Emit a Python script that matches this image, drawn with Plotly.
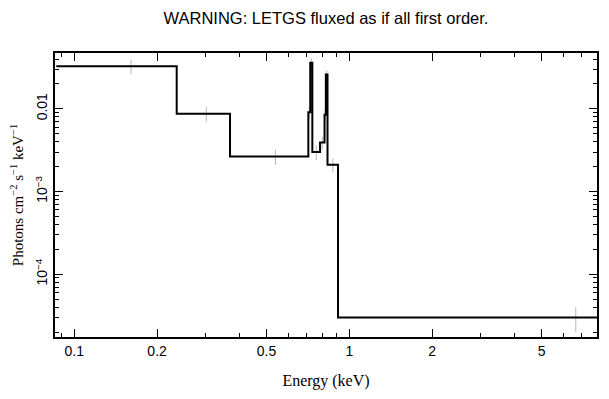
import plotly.graph_objects as go
import numpy as np

# Bin edges (keV) and fluxed values (photons cm^-2 s^-1 keV^-1)
bin_edges = [0.086, 0.2357, 0.3683, 0.7094, 0.721, 0.7336, 0.7825, 0.8125, 0.8214, 0.833, 0.9097, 12.4]
flux = [0.0326, 0.0087, 0.00265, 0.0091, 0.036, 0.0030, 0.0039, 0.0085, 0.026, 0.0021, 3.0e-5]
flux_err = [0.0065, 0.0018, 0.00055, 0.0015, 0.005, 0.0006, 0.0007, 0.0015, 0.003, 0.0004, 1.0e-5]

x_major = [0.1, 0.2, 0.5, 1, 2, 5]
x_major_text = ["0.1", "0.2", "0.5", "1", "2", "5"]
x_minor = [0.09, 0.3, 0.4, 0.6, 0.7, 0.8, 0.9, 3, 4, 6, 7]
y_major = [0.01, 1e-3, 1e-4]
y_major_text = ["0.01", "10<sup>\u22123</sup>", "10<sup>\u22124</sup>"]
y_minor = [m * 10.0 ** e for e in (-5, -4, -3, -2) for m in range(2, 10)]

step_x = list(bin_edges)
step_y = list(flux) + [flux[-1]]
centers = [(a + b) / 2 for a, b in zip(bin_edges[:-1], bin_edges[1:])]

fig = go.Figure()
fig.add_trace(go.Scatter(
    x=centers, y=flux, mode="markers",
    marker=dict(size=1, color="rgba(0,0,0,0)"),
    error_y=dict(type="data", array=flux_err, color="#b8b8b8", thickness=1, width=0),
    showlegend=False, hoverinfo="skip"))
fig.add_trace(go.Scatter(
    x=step_x, y=step_y, mode="lines", line=dict(shape="hv", color="black", width=2),
    showlegend=False))

sans = "Liberation Sans, Arial, Helvetica, sans-serif"
serif = "Liberation Serif, Times New Roman, serif"

W, H = 593, 383  # page body has an 8px margin
fig.update_layout(
    width=W, height=H,
    margin=dict(l=47, r=4, t=45, b=54),
    paper_bgcolor="white", plot_bgcolor="white",
    title=dict(text="WARNING: LETGS fluxed as if all first order.",
               x=0.5, xref="paper", xanchor="center",
               y=1 - 10 / H, yref="container", yanchor="middle",
               font=dict(family=sans, size=16.5, color="black")),
    font=dict(family=sans, color="black"),
)
fig.update_xaxes(
    type="log", range=[np.log10(0.0851), np.log10(7.95)], automargin=False,
    showgrid=False, zeroline=False,
    showline=True, linecolor="black", linewidth=2, mirror="allticks",
    ticks="inside", ticklen=8, tickwidth=1, tickcolor="black",
    tickmode="array", tickvals=x_major, ticktext=x_major_text,
    tickfont=dict(family=sans, size=14, color="black"),
    minor=dict(tickmode="array", tickvals=x_minor, ticks="inside", ticklen=4, tickcolor="black", showgrid=False),
    title=dict(text="Energy (keV)", font=dict(family=serif, size=16, color="black"), standoff=17),
)
fig.update_yaxes(
    type="log", range=[np.log10(1.74e-5), np.log10(0.0473)], automargin=False,
    showgrid=False, zeroline=False,
    showline=True, linecolor="black", linewidth=2, mirror="allticks",
    ticks="inside", ticklen=8, tickwidth=1, tickcolor="black",
    tickmode="array", tickvals=y_major, ticktext=y_major_text, tickangle=-90,
    tickfont=dict(family=sans, size=14, color="black"),
    minor=dict(tickmode="array", tickvals=y_minor, ticks="inside", ticklen=4, tickcolor="black", showgrid=False),
    title=dict(text="Photons cm<sup>\u22122</sup> s<sup>\u22121</sup> keV<sup>\u22121</sup>",
               font=dict(family=serif, size=15, color="black"), standoff=6),
)

fig.write_html("out.html")
